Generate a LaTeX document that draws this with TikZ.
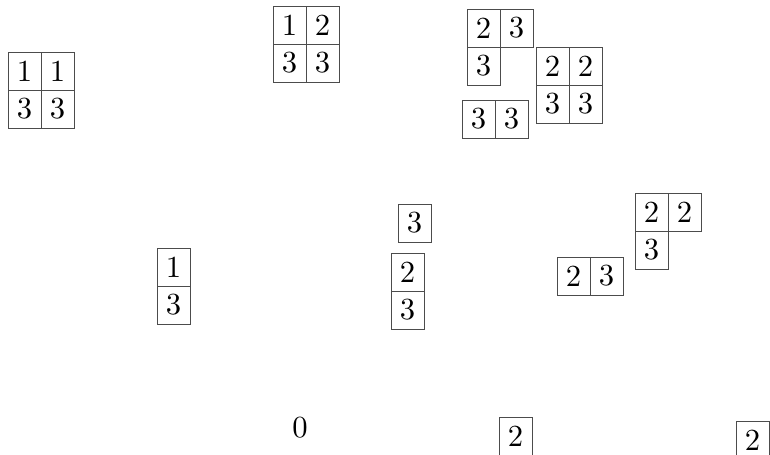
\documentclass[tikz,border=0pt]{standalone}
\usepackage{fontspec}
\newfontfamily\cellfont{lmroman10-regular}[Extension=.otf]
\usetikzlibrary{positioning}

\tikzset{
  cell/.style={draw=black!70, line width=0.6pt, inner sep=0pt, outer sep=0pt,
               minimum width=24.75pt, minimum height=28.5pt,
               font=\cellfont\fontsize{23}{27}\selectfont},
  first/.style={cell, anchor=north west},
}

\begin{document}
\begin{tikzpicture}[x=0.75pt, y=-0.75pt]

% ---- frame (pixel grid of the reference) ----
\useasboundingbox (0,0) rectangle (770,454);
\clip (0,0) rectangle (770,454);

% ---- top row ----
% 1 1 / 3 3
\node[first] (a11) at (8,52) {1};
\node[cell, right=0pt of a11] (a12) {1};
\node[cell, below=0pt of a11] (a21) {3};
\node[cell, right=0pt of a21] (a22) {3};

% 1 2 / 3 3
\node[first] (b11) at (273,6) {1};
\node[cell, right=0pt of b11] (b12) {2};
\node[cell, below=0pt of b11] (b21) {3};
\node[cell, right=0pt of b21] (b22) {3};

% 2 3 / 3
\node[first] (c11) at (467,9) {2};
\node[cell, right=0pt of c11] (c12) {3};
\node[cell, below=0pt of c11] (c21) {3};

% 2 2 / 3 3
\node[first] (d11) at (536,47) {2};
\node[cell, right=0pt of d11] (d12) {2};
\node[cell, below=0pt of d11] (d21) {3};
\node[cell, right=0pt of d21] (d22) {3};

% 3 3
\node[first] (e11) at (462,100) {3};
\node[cell, right=0pt of e11] (e12) {3};

% ---- middle row ----
% 1 / 3
\node[first] (f11) at (157,248) {1};
\node[cell, below=0pt of f11] (f21) {3};

% 3
\node[first] (g11) at (398,204) {3};

% 2 / 3
\node[first] (h11) at (391,253) {2};
\node[cell, below=0pt of h11] (h21) {3};

% 2 2 / 3
\node[first] (i11) at (635,193) {2};
\node[cell, right=0pt of i11] (i12) {2};
\node[cell, below=0pt of i11] (i21) {3};

% 2 3
\node[first] (j11) at (557,257) {2};
\node[cell, right=0pt of j11] (j12) {3};

% ---- bottom row ----
\node[font=\cellfont\fontsize{23}{27}\selectfont] (zero) at (300,428) {0};

% 2
\node[first] (l11) at (499,417) {2};

% 2 2
\node[first] (m11) at (736,421) {2};
\node[cell, right=0pt of m11] (m12) {2};

\end{tikzpicture}
\end{document}
